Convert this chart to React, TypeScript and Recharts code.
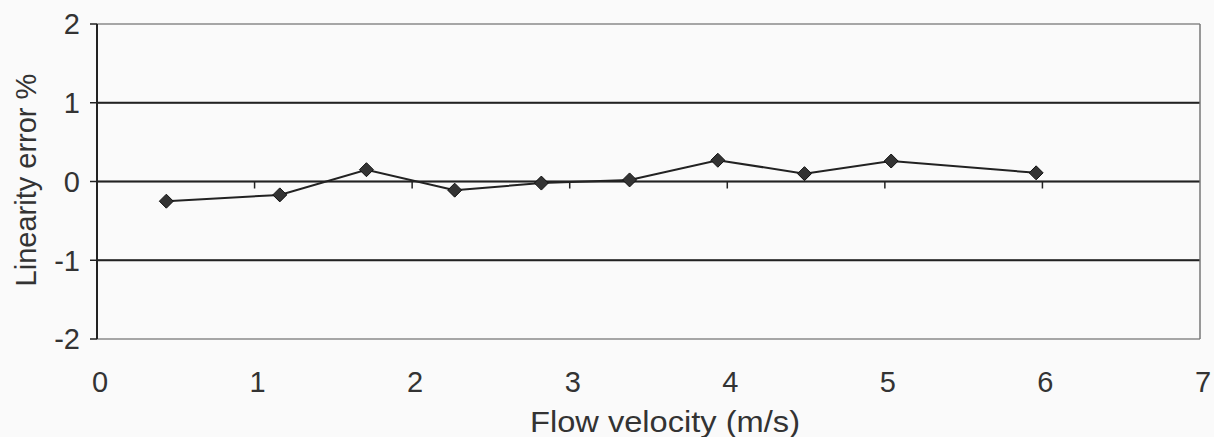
import React from 'react';
import { LineChart, Line, XAxis, YAxis, CartesianGrid, ReferenceLine, Label } from 'recharts';

// values
const velocity = [0.44, 1.16, 1.71, 2.27, 2.82, 3.38, 3.94, 4.49, 5.04, 5.96];
const linearityError = [-0.25, -0.17, 0.15, -0.11, -0.02, 0.02, 0.27, 0.1, 0.26, 0.11];
const xTicks = [0, 1, 2, 3, 4, 5, 6, 7];
const yTicks = [-2, -1, 0, 1, 2];
const bandLines = [1, 0, -1];

const data = velocity.map((v, i) => ({ v, err: linearityError[i] }));

const W = 1214;
const H = 437;
const TOP = 24;
const BOTTOM = 339;
const ZERO_Y = TOP + (BOTTOM - TOP) / 2;
const INK = '#222';
const FONT = 'Liberation Sans, Arial, sans-serif';

const XTick = (props: any) => {
  const { x, payload } = props;
  const v = payload.value;
  return (
    <g>
      {v > 0 && v < 7 && <line x1={x} x2={x} y1={ZERO_Y} y2={ZERO_Y + 7} stroke={INK} strokeWidth={1.5} />}
      <text x={x + 3} y={392} textAnchor="middle" fontSize={29} fontFamily={FONT} fill="#333">
        {v}
      </text>
    </g>
  );
};

const Diamond = (props: any) => {
  const { cx, cy } = props;
  if (cx == null || cy == null) return null;
  const r = 7;
  return (
    <polygon
      points={`${cx},${cy - r} ${cx + r},${cy} ${cx},${cy + r} ${cx - r},${cy}`}
      fill="#333"
      stroke="#111"
      strokeWidth={1}
    />
  );
};

export default function App() {
  return (
    <div style={{ position: 'absolute', left: 0, top: 0, width: W, height: H, background: '#fafafa' }}>
      <LineChart width={W} height={H} data={data} margin={{ top: TOP, right: 14, bottom: 0, left: 0 }}>
        <CartesianGrid vertical={false} stroke="#8a8a8a" strokeWidth={1.5} />
        <XAxis
          type="number"
          dataKey="v"
          domain={[0, 7]}
          ticks={xTicks}
          axisLine={false}
          tickLine={false}
          height={H - BOTTOM}
          tick={<XTick />}
          interval={0}
        >
          <Label
            content={() => (
              <text x={665} y={432} textAnchor="middle" fontSize={29} fontFamily={FONT} fill="#333"
                textLength={270} lengthAdjust="spacingAndGlyphs">
                Flow velocity (m/s)
              </text>
            )}
          />
        </XAxis>
        <YAxis
          type="number"
          domain={[-2, 2]}
          ticks={yTicks}
          width={97}
          axisLine={{ stroke: INK, strokeWidth: 2 }}
          tickLine={{ stroke: INK, strokeWidth: 1.5 }}
          tickSize={7}
          tickMargin={10}
          tick={{ fontSize: 29, fontFamily: FONT, fill: '#333' }}
          interval={0}
        >
          <Label
            content={() => (
              <text x={36} y={180} textAnchor="middle" fontSize={29} fontFamily={FONT} fill="#333"
                transform="rotate(-90 36 180)">
                Linearity error %
              </text>
            )}
          />
        </YAxis>
        {bandLines.map((b) => (
          <ReferenceLine key={b} y={b} stroke={INK} strokeWidth={2} />
        ))}
        <ReferenceLine x={7} stroke="#777" strokeWidth={1.5} />
        <Line
          type="linear"
          dataKey="err"
          stroke={INK}
          strokeWidth={2}
          dot={<Diamond />}
          activeDot={false}
          isAnimationActive={false}
        />
      </LineChart>
    </div>
  );
}
